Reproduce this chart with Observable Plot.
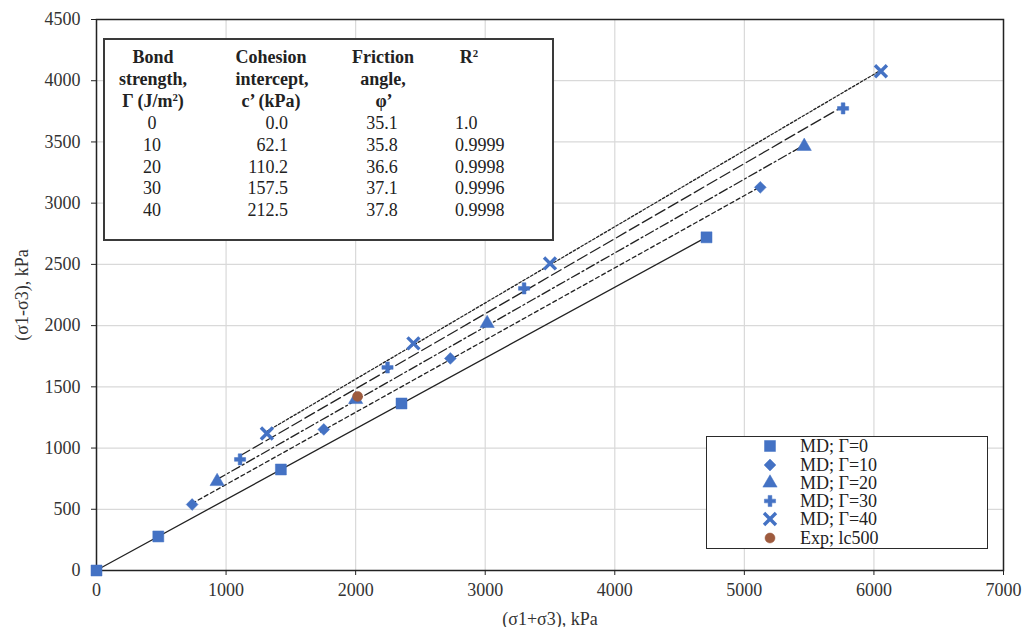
<!DOCTYPE html>
<html>
<head>
<meta charset="utf-8">
<script src="https://cdn.jsdelivr.net/npm/d3@7"></script>
<script src="https://cdn.jsdelivr.net/npm/@observablehq/plot@0.6"></script>
<style>
  html, body { margin: 0; padding: 0; background: #fff; }
  #wrap { position: relative; width: 1023px; height: 627px; overflow: hidden; font-family: "Liberation Serif", "Times New Roman", serif; color: #222; }
  .box { position: absolute; background: #fff; box-sizing: border-box; }
  .cell { position: absolute; font-size: 18px; line-height: 22px; white-space: nowrap; }
  .hdr { font-weight: bold; }
  sup { font-size: 0.6em; vertical-align: 0; position: relative; top: -0.55em; }
</style>
</head>
<body>
<div id="wrap"></div>
<script>
// ---- data ----
const xTicks = [0, 1000, 2000, 3000, 4000, 5000, 6000, 7000];
const yTicks = [0, 500, 1000, 1500, 2000, 2500, 3000, 3500, 4000, 4500];

const g0X = [0, 477, 1423, 2354, 4708];
const g0Y = [0, 278, 825, 1364, 2721];
const g10X = [738, 1754, 2731, 5123];
const g10Y = [539, 1152, 1732, 3129];
const g20X = [931, 2000, 3015, 5462];
const g20Y = [727, 1397, 2018, 3464];
const g30X = [1108, 2246, 3300, 5762];
const g30Y = [907, 1658, 2304, 3774];
const g40X = [1315, 2446, 3500, 6054];
const g40Y = [1119, 1855, 2508, 4077];
const expX = [2015];
const expY = [1422];

const seriesNames = ["MD; Γ=0", "MD; Γ=10", "MD; Γ=20", "MD; Γ=30", "MD; Γ=40", "Exp; lc500"];

const tableGamma = ["0", "10", "20", "30", "40"];
const tableCohesion = ["0.0", "62.1", "110.2", "157.5", "212.5"];
const tableFriction = ["35.1", "35.8", "36.6", "37.1", "37.8"];
const tableR2 = ["1.0", "0.9999", "0.9998", "0.9996", "0.9998"];

// ---- styling ----
const blue = "#4472C4";
const brown = "#9E5B3E";
const lineColor = "#222";

const toRows = (xs, ys) => xs.map((x, i) => ({x, y: ys[i]}));
const s0 = toRows(g0X, g0Y), s10 = toRows(g10X, g10Y), s20 = toRows(g20X, g20Y),
      s30 = toRows(g30X, g30Y), s40 = toRows(g40X, g40Y), sExp = toRows(expX, expY);

const reg = (data, dash) => Plot.linearRegressionY(data, {x: "x", y: "y", ci: 0, stroke: lineColor, strokeWidth: 1.3, strokeDasharray: dash});

const chart = Plot.plot({
  width: 1023,
  height: 627,
  marginLeft: 96,
  marginRight: 20,
  marginTop: 19,
  marginBottom: 57,
  style: {fontFamily: "'Liberation Serif', 'Times New Roman', serif", fontSize: "18px", color: "#333", background: "transparent"},
  x: {domain: [0, 7000]},
  y: {domain: [0, 4500]},
  marks: [
    Plot.gridX(xTicks, {stroke: "#d9d9d9", strokeOpacity: 1, strokeWidth: 1.2}),
    Plot.gridY(yTicks, {stroke: "#d9d9d9", strokeOpacity: 1, strokeWidth: 1.2}),
    Plot.axisX({ticks: xTicks, tickSize: 5, tickPadding: 8, tickFormat: d => String(d), label: "(σ1+σ3), kPa", labelAnchor: "center", labelArrow: "none", labelOffset: 54, stroke: "#222"}),
    Plot.axisY({ticks: yTicks, tickSize: 5, tickPadding: 11, tickFormat: d => String(d), label: "(σ1-σ3), kPa", labelAnchor: "center", labelArrow: "none", labelOffset: 81, stroke: "#222"}),
    reg(s0, null),
    reg(s10, "4,3"),
    reg(s20, "9,3,2,3"),
    reg(s30, "11,4"),
    reg(s40, "2.5,2"),
    Plot.frame({stroke: "#222", strokeWidth: 1.5}),
    Plot.dot(s0, {x: "x", y: "y", symbol: "square", r: 6.2, fill: blue, stroke: blue, strokeWidth: 0.5}),
    Plot.dot(s10, {x: "x", y: "y", symbol: "square", rotate: 45, r: 4.7, fill: blue, stroke: blue, strokeWidth: 0.5}),
    Plot.dot(s20, {x: "x", y: "y", symbol: "triangle", r: 5.3, fill: blue, stroke: blue, strokeWidth: 0.5}),
    Plot.dot(s30, {x: "x", y: "y", symbol: "cross", r: 4.7, fill: blue, stroke: blue, strokeWidth: 0.5}),
    Plot.dot(s40, {x: "x", y: "y", symbol: "times", r: 5.5, fill: "none", stroke: blue, strokeWidth: 3.4}),
    Plot.dot(sExp, {x: "x", y: "y", symbol: "circle", r: 5, fill: brown, stroke: brown, strokeWidth: 0.5})
  ]
});

const wrap = document.getElementById("wrap");
chart.style.position = "absolute";
chart.style.left = "0px";
chart.style.top = "0px";
wrap.appendChild(chart);

// ---- table overlay ----
const tbl = document.createElement("div");
tbl.className = "box";
Object.assign(tbl.style, {left: "103px", top: "38px", width: "451px", height: "203px", border: "2px solid #3a3a3a"});
wrap.appendChild(tbl);

function cell(html, cx, cy, align, bold) {
  const d = document.createElement("div");
  d.className = "cell" + (bold ? " hdr" : "");
  d.innerHTML = html;
  d.style.top = (cy - 11) + "px";
  if (align === "center") { d.style.left = (cx - 100) + "px"; d.style.width = "200px"; d.style.textAlign = "center"; }
  else if (align === "right") { d.style.left = (cx - 200) + "px"; d.style.width = "200px"; d.style.textAlign = "right"; }
  else { d.style.left = cx + "px"; }
  wrap.appendChild(d);
}
const hy = [57, 79, 101];
cell("Bond", 153, hy[0], "center", true);
cell("strength,", 153, hy[1], "center", true);
cell("Γ (J/m<sup>2</sup>)", 153, hy[2], "center", true);
cell("Cohesion", 271, hy[0], "center", true);
cell("intercept,", 272, hy[1], "center", true);
cell("c’ (kPa)", 271, hy[2], "center", true);
cell("Friction", 383, hy[0], "center", true);
cell("angle,", 383, hy[1], "center", true);
cell("φ’", 384, hy[2], "center", true);
cell("R<sup>2</sup>", 469, hy[0], "center", true);
const rowY0 = 123, rowStep = 21.8;
tableGamma.forEach((v, i) => cell(v, 152, rowY0 + i * rowStep, "center", false));
tableCohesion.forEach((v, i) => cell(v, 288, rowY0 + i * rowStep, "right", false));
tableFriction.forEach((v, i) => cell(v, 382, rowY0 + i * rowStep, "center", false));
tableR2.forEach((v, i) => cell(v, 455, rowY0 + i * rowStep, "left", false));

// ---- legend overlay ----
const leg = document.createElement("div");
leg.className = "box";
Object.assign(leg.style, {left: "706px", top: "436px", width: "282px", height: "113px", border: "1.5px solid #2a2a2a"});
wrap.appendChild(leg);

const legendSymbols = [
  {sym: d3.symbolSquare, r: 6.2, rot: 0, fill: blue, stroke: blue, sw: 0.5},
  {sym: d3.symbolSquare, r: 4.7, rot: 45, fill: blue, stroke: blue, sw: 0.5},
  {sym: d3.symbolTriangle, r: 5.3, rot: 0, fill: blue, stroke: blue, sw: 0.5},
  {sym: d3.symbolCross, r: 4.7, rot: 0, fill: blue, stroke: blue, sw: 0.5},
  {sym: d3.symbolTimes, r: 5.5, rot: 0, fill: "none", stroke: blue, sw: 3.4},
  {sym: d3.symbolCircle, r: 5, rot: 0, fill: brown, stroke: brown, sw: 0.5}
];
const legY = [446, 465, 483, 501, 519, 538];
seriesNames.forEach((name, i) => {
  const s = legendSymbols[i];
  const svg = d3.create("svg").attr("width", 20).attr("height", 20)
    .style("position", "absolute").style("left", "760px").style("top", (legY[i] - 10) + "px");
  svg.append("path")
    .attr("d", d3.symbol(s.sym, Math.PI * s.r * s.r)())
    .attr("transform", `translate(10,10) rotate(${s.rot})`)
    .attr("fill", s.fill).attr("stroke", s.stroke).attr("stroke-width", s.sw);
  wrap.appendChild(svg.node());
  const t = document.createElement("div");
  t.className = "cell";
  t.textContent = name;
  t.style.left = "800px";
  t.style.top = (legY[i] - 11) + "px";
  wrap.appendChild(t);
});
</script>
</body>
</html>
